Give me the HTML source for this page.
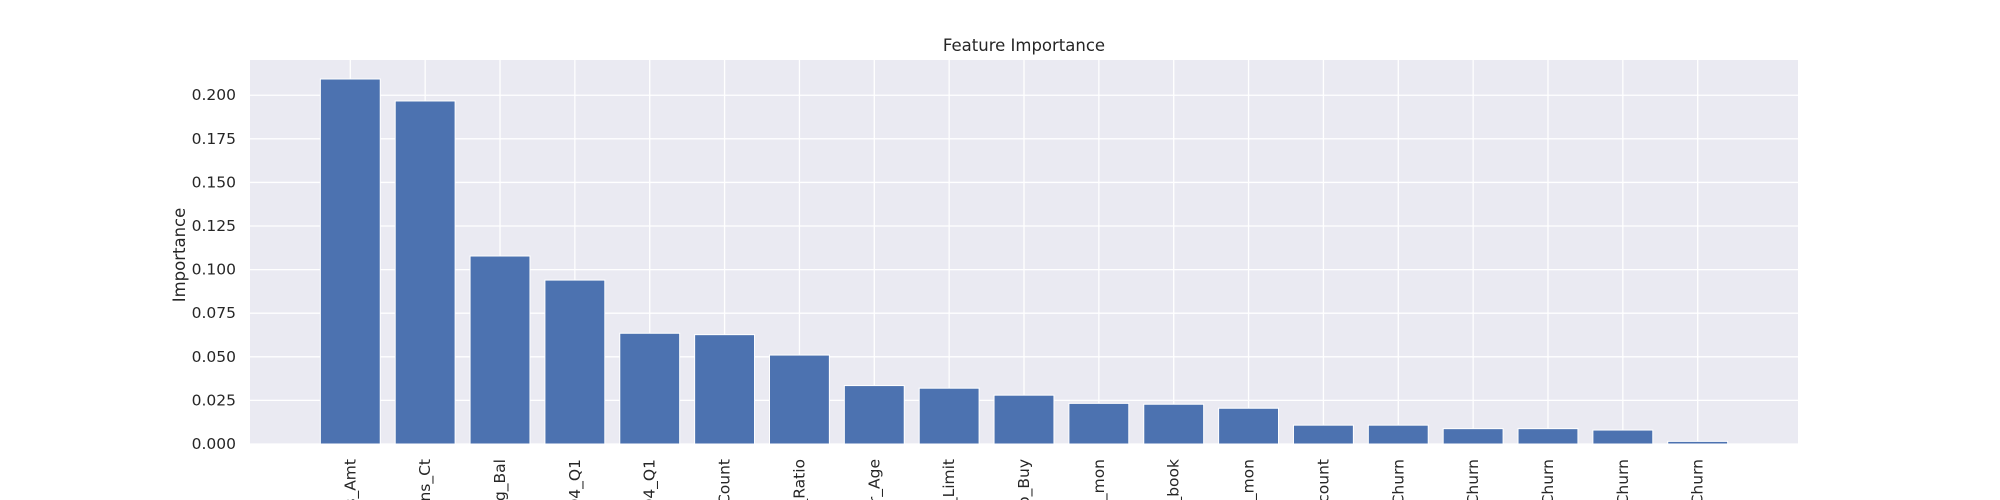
<!DOCTYPE html>
<html><head><meta charset="utf-8"><style>
html,body{margin:0;padding:0;background:#fff;width:2000px;height:500px;overflow:hidden}
svg{overflow:hidden;display:block}
text{font-family:"DejaVu Sans","Liberation Sans",sans-serif;fill:#262626}
</style></head><body>
<svg id="chart" width="2000" height="500" viewBox="0 0 2000 500" xmlns="http://www.w3.org/2000/svg">
<rect x="250" y="60" width="1548" height="384" fill="#eaeaf2"/>
<g id="grid"></g><g id="bars"></g><g id="labels"></g>
<text x="1024" y="51" font-size="16.5" text-anchor="middle">Feature Importance</text>
<text x="0" y="0" font-size="16.5" text-anchor="middle" transform="translate(185,255) rotate(-90)">Importance</text>
</svg>
<script>
const categories=["Total_Trans_Amt","Total_Trans_Ct","Total_Revolving_Bal","Total_Ct_Chng_Q4_Q1","Total_Amt_Chng_Q4_Q1","Total_Relationship_Count","Avg_Utilization_Ratio","Customer_Age","Credit_Limit","Avg_Open_To_Buy","Months_Inactive_12_mon","Months_on_book","Contacts_Count_12_mon","Dependent_count","Gender_Churn","Marital_Status_Churn","Education_Level_Churn","Income_Category_Churn","Card_Category_Churn"];
const values=[0.2093,0.1967,0.1078,0.0940,0.0635,0.0627,0.0510,0.0335,0.0320,0.0280,0.0233,0.0228,0.0205,0.0108,0.0108,0.0088,0.0088,0.0080,0.0015];
const yTicks=[0,0.025,0.05,0.075,0.1,0.125,0.15,0.175,0.2];
const tickLabels=["0.000","0.025","0.050","0.075","0.100","0.125","0.150","0.175","0.200"];
const L=250,R=1798,T=60,B=444,ymax=0.2202;
const xmin=-1.34,xmax=categories.length-1+1.34;
const xs=i=>L+(i-xmin)/(xmax-xmin)*(R-L);
const ys=v=>B-v/ymax*(B-T);
const bw=0.8*(xs(1)-xs(0));
const NS="http://www.w3.org/2000/svg";
const g=document.getElementById('grid'),gb=document.getElementById('bars'),gl=document.getElementById('labels');
function mk(tag,attrs,parent){const e=document.createElementNS(NS,tag);for(const k in attrs)e.setAttribute(k,attrs[k]);parent.appendChild(e);return e;}
yTicks.forEach((t,i)=>{
 const l=mk('line',{x1:L,x2:R,y1:ys(t),y2:ys(t),stroke:'#fff','stroke-width':1.3},g);
 
 
 const tx=mk('text',{x:236,y:ys(t)+5,'font-size':15.5,'text-anchor':'end'},gl);
 tx.textContent=tickLabels[i];
 
 
});
categories.forEach((c,i)=>{
 const x=xs(i);
 const l=mk('line',{x1:x,x2:x,y1:T,y2:B,stroke:'#fff','stroke-width':1.3},g);
 
 
 const r=mk('rect',{x:x-bw/2,y:ys(values[i]),width:bw,height:B-ys(values[i]),fill:'#4c72b0',stroke:'#fff','stroke-width':1},gb);
 
 
 const tx=mk('text',{x:0,y:0,'font-size':15.5,'text-anchor':'end',transform:`translate(${x+5},${459}) rotate(-90)`},gl);
 tx.textContent=c;
 
 
});
</script>
</body></html>
